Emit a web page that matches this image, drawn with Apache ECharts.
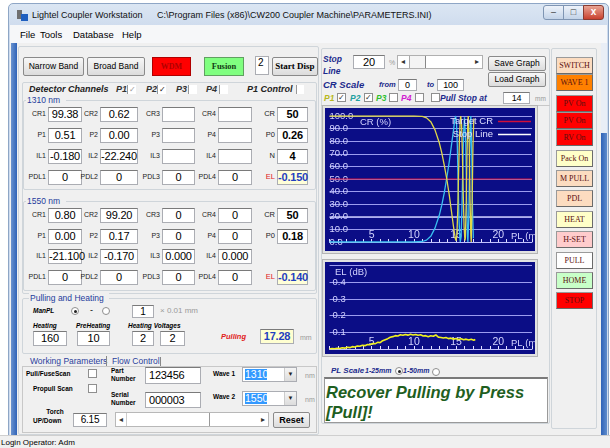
<!DOCTYPE html>
<html><head><meta charset="utf-8">
<script src="https://cdn.jsdelivr.net/npm/echarts@6/dist/echarts.min.js"></script>
<style>
html,body{margin:0;padding:0;}
body{width:610px;height:448px;position:relative;overflow:hidden;background:#fff;font-family:"Liberation Sans",Arial,sans-serif;font-size:9px;color:#000;}
.a{position:absolute;white-space:nowrap;box-sizing:border-box;}
.tb{background:#fff;border:1px solid #abadb3;border-top-color:#7a7a7a;font-size:11px;text-align:center;letter-spacing:-0.2px;}
.btn{background:linear-gradient(#f7f7f7,#dcdcdc);border:1px solid #8a8a8a;border-radius:2px;text-align:center;font-size:8.5px;}
.grp{border:1px solid #cfd5da;border-radius:2px;}
.gl{color:#1d3c9c;background:#f0f0f0;padding:0 1px;font-size:8.5px;}
.lb{font-size:7px;color:#222;text-align:right;}
.bi{font-weight:bold;font-style:italic;}
.nv{color:#1b2a8c;}
.rb{font-family:"Liberation Serif",serif;font-size:8px;color:#5a1010;text-align:center;border:1px solid #9a9a9a;border-right-color:#6a6a6a;border-bottom-color:#6a6a6a;}
</style></head>
<body>
<script>
// ---------------- DATA ----------------
const crXTicks = [5, 10, 15, 20];
const crLegend = ['Target CR', 'Stop Line'];
const targetCR = 50;
const stopLine = 20;
// P1 coupling ratio (%) vs pulling length (mm)
const p1Data = [[0,100],[5,100],[10,100],[11,99.7],[11.5,98.5],[12,95.5],[12.5,89],[13,79],[13.3,71],[13.6,61],[13.9,50],[14.2,37],[14.5,22],[14.7,12],[14.9,3],[15.0,1],[15.1,6],[15.2,25],[15.3,55],[15.4,82],[15.5,97],[15.55,100],[15.65,94],[15.75,70],[15.85,38],[15.95,12],[16.05,1],[16.1,3],[16.2,30],[16.3,72],[16.4,97],[16.45,100],[16.55,80],[16.65,35],[16.75,5],[16.8,0],[16.9,30],[17.0,75],[17.1,98]];
// P2 coupling ratio (%)
const p2Data = [[0,0],[5,0],[10,0],[11,0.4],[11.5,1.5],[12,4.5],[12.5,11],[13,21],[13.3,29],[13.6,39],[13.9,51],[14.2,64],[14.5,79],[14.7,89],[14.85,97],[14.95,100],[15.05,95],[15.15,76],[15.25,46],[15.35,18],[15.45,3],[15.5,0],[15.6,4],[15.7,28],[15.8,60],[15.9,87],[16.0,99],[16.05,100],[16.15,78],[16.25,35],[16.35,5],[16.4,0],[16.5,18],[16.6,62],[16.7,94],[16.75,100],[16.85,72],[16.95,26],[17.05,3]];
// Excess loss (dB) vs pulling length (mm)
const elData = [[0,0.000],[0.3,0.003],[0.6,0.001],[0.9,0.004],[1.2,0.003],[1.5,0.007],[1.8,0.005],[2.1,0.010],[2.4,0.008],[2.7,0.014],[3.0,0.012],[3.3,0.018],[3.6,0.016],[3.9,0.022],[4.2,0.020],[4.5,0.027],[4.8,0.025],[5.1,0.033],[5.4,0.031],[5.7,0.040],[6.0,0.038],[6.3,0.050],[6.6,0.056],[6.9,0.062],[7.2,0.070],[7.5,0.074],[7.8,0.080],[8.1,0.078],[8.4,0.085],[8.7,0.082],[9.0,0.087],[9.3,0.083],[9.6,0.088],[9.9,0.084],[10.2,0.087],[10.5,0.082],[10.8,0.085],[11.1,0.078],[11.4,0.080],[11.7,0.074],[12.0,0.079],[12.3,0.076],[12.6,0.084],[12.9,0.071],[13.2,0.069],[13.5,0.066],[13.8,0.069],[14.1,0.062],[14.4,0.065],[14.7,0.059],[15.0,0.063],[15.3,0.057],[15.6,0.061],[15.9,0.055],[16.2,0.059],[16.5,0.054],[16.8,0.058],[17.1,0.053],[17.28,0.057]];
const elYLabels = [0.1, 0.2, 0.3, 0.4];

// Panel text values
const menuItems = ['File','Tools','Database','Help'];
const rowLabels = [['CR1','CR2','CR3','CR4'],['P1','P2','P3','P4'],['IL1','IL2','IL3','IL4'],['PDL1','PDL2','PDL3','PDL4']];
const vals1310 = [['99.38','0.62','',''],['0.51','0.00','',''],['-0.180','-22.240','',''],['0','0','0','0']];
const ctl1310 = [['CR','50'],['P0','0.26'],['N','4'],['EL','-0.150']];
const vals1550 = [['0.80','99.20','0','0'],['0.00','0.17','0','0'],['-21.100','-0.170','0.000','0.000'],['0','0','0','0']];
const ctl1550 = [['CR','50'],['P0','0.18'],null,['EL','-0.140']];
const sideButtons = ['SWITCH','WAVE 1','PV On','PV On','RV On','Pack On','M PULL','PDL','HEAT','H-SET','PULL','HOME','STOP'];
const sideColors = ['#fcdcc0','#ff8000','#ff0000','#ff0000','#ff0000','#ffffc8','#fcdcc0','#fcdcc0','#ffffc8','#ffcccc','#ffffff','#c8ffc8','#ff0000'];
const sideTops = [57,74,95,112,129,150,170,190,211,231,252,272,292];

// ---------------- UI helpers ----------------
function A(x,y,w,h,cls,txt,css){
  const d=document.createElement('div');
  d.className='a'+(cls?' '+cls:'');
  let s='left:'+x+'px;top:'+y+'px;';
  if(w!=null) s+='width:'+w+'px;';
  if(h!=null){ const bordered=/tb|btn|rb/.test(cls||''); s+='height:'+h+'px;line-height:'+(bordered?h-2:h)+'px;'; }
  d.style.cssText=s+(css||'');
  if(txt!=null) d.textContent=txt;
  document.body.appendChild(d); return d;
}
function CB(x,y,chk,css){ return A(x,y,9,9,'',chk?'\u2713':'','border:1px solid #8f8f8f;background:#fff;font-size:8px;line-height:7px;text-align:center;color:#333;'+(css||'')); }
function RD(x,y,on){ const r=A(x,y,8,8,'',null,'border:1px solid #8f8f8f;border-radius:50%;background:#fff;'); if(on) A(x+2.5,y+2.5,3,3,'',null,'border-radius:50%;background:#222;'); return r; }

// ---------------- window chrome ----------------
A(8,3,601,445,'',null,'background:linear-gradient(#dbe6f3,#cfdcee 22px,#cfdcee);border:1px solid #8ea6c6;border-radius:5px 5px 0 0;');
A(17,10,5,9,'',null,'background:#707070;');
A(21,14,7,7,'',null,'background:#1f5fbf;');
A(32,8,120,14,'','Lightel Coupler Workstation','font-size:9px;color:#111;');
A(157,8,260,14,'','C:\\Program Files (x86)\\CW200 Coupler Machine\\PARAMETERS.INI)','font-size:9px;color:#111;');
A(543,5,21,15,'','\u2013','background:linear-gradient(#eef3fa,#c3d3e8);border:1px solid #7f95b3;border-radius:3px 0 0 3px;text-align:center;font-size:9px;line-height:13px;color:#333;');
A(563,5,21,15,'','\u25A1','background:linear-gradient(#eef3fa,#c3d3e8);border:1px solid #7f95b3;text-align:center;font-size:9px;line-height:13px;color:#333;');
A(583,5,21,15,'','x','background:linear-gradient(#e9a494,#c8412f);border:1px solid #8a3a30;border-radius:0 3px 3px 0;text-align:center;font-size:10px;font-weight:bold;line-height:12px;color:#fff;');
A(10,25,597,18,'',null,'background:#f6f7f9;');
const menuX=[20,40,73,122];
menuItems.forEach((m,i)=>A(menuX[i],29,40,12,'',m,'font-size:9.5px;'));
A(10,43,597,392,'',null,'background:#f0f0f0;');
A(11,43,6,392,'',null,'background:linear-gradient(90deg,#6a93cf,#2f63b8);');
A(601,43,6,90,'',null,'background:#e9eef6;');
A(601,133,6,302,'',null,'background:linear-gradient(90deg,#2f63b8,#5f8ccc);');
A(0,435,610,13,'','Login Operator: Adm','background:#f0f0f0;border-top:1px solid #cfcfcf;font-size:8px;padding-left:1px;');

// ---------------- left panel ----------------
A(18,46,301,389,'grp');
A(23,57,61,19,'btn','Narrow Band');
A(87,57,58,19,'btn','Broad Band');
A(152,57,39,19,'','WDM','background:#ff0000;border:1px solid #b00000;text-align:center;font-family:"Liberation Serif",serif;font-weight:bold;font-size:8px;color:#b00000;line-height:17px;');
A(204,57,40,19,'','Fusion','background:#80ff80;border:1px solid #60a060;text-align:center;font-family:"Liberation Serif",serif;font-weight:bold;font-size:8.5px;color:#143c14;line-height:17px;');
A(255,56,14,19,'','2','background:#fff;border:1px solid #abadb3;font-size:10px;line-height:11px;padding-left:2px;');
A(272,57,46,19,'btn','Start Disp','font-family:"Liberation Serif",serif;font-weight:bold;font-size:9px;');

A(22,82,295,212,'grp');
A(29,84,90,10,'bi','Detector Channels','font-size:9px;line-height:10px;color:#222;');
const hdr=[['P1',116,127,true],['P2',146,157,true],['P3',176,188,false],['P4',206,219,false]];
hdr.forEach(h=>{A(h[1],84,14,10,'bi',h[0],'font-size:9px;line-height:10px;color:#333;');A(h[2],85,9,9,'',h[3]?'\u2713':'','border-left:1px solid #999;background:#fff;font-size:8px;line-height:9px;text-align:center;color:'+(h[0]==='P1'?'#999':'#222')+';');});
A(247,84,50,10,'bi','P1 Control','font-size:9px;line-height:10px;color:#222;');
A(296,85,8,9,'',null,'border-left:1px solid #999;background:#fff;');

const bx=[48,100,162,218], bw=[34,38,33,34];
function fieldGroup(top,bottom,label,rowsY,vals,ctl){
  A(23,top,293,bottom-top,'grp');
  A(26,top-5,40,10,'gl',label,'line-height:10px;');
  rowsY.forEach((yc,r)=>{
    for(let c=0;c<4;c++){
      A(bx[c]-30,yc-6,28,12,'lb',rowLabels[r][c],'padding-right:0;');
      A(bx[c],yc-7,bw[c],15,'tb',vals[r][c]);
    }
    if(ctl[r]){
      const isEL=ctl[r][0]==='EL';
      A(245,yc-6,30,12,'lb',ctl[r][0],isEL?'color:#e02020;font-size:7.5px;':'font-size:7.5px;');
      A(277,yc-7,31,15,'tb',ctl[r][1],'font-weight:bold;'+(isEL?'background:#ffffd8;color:#1f3fc0;':''));
    }
  });
}
fieldGroup(100,190,'1310 nm',[114,135,156,177],vals1310,ctl1310);
fieldGroup(201,291,'1550 nm',[215,236,256,277],vals1550,ctl1550);

// pulling and heating
A(22,298,295,56,'grp');
A(29,293,80,10,'gl','Pulling and Heating','line-height:10px;');
A(33,306,30,9,'bi','ManPL','font-size:6.5px;line-height:9px;');
RD(71,307,true); A(90,305,6,10,'','-','font-size:9px;line-height:10px;'); RD(102,307,false);
A(132,305,22,13,'tb','1','font-size:10px;');
A(160,306,50,10,'','\u00D7 0.01 mm','color:#9a9a9a;font-size:8px;line-height:10px;');
A(33,321,40,9,'bi','Heating','font-size:6.5px;line-height:9px;');
A(76,321,40,9,'bi','PreHeating','font-size:6.5px;line-height:9px;');
A(128,321,60,9,'bi','Heating Voltages','font-size:6.5px;line-height:9px;');
A(33,331,34,15,'tb','160'); A(77,331,33,15,'tb','10'); A(132,331,22,15,'tb','2'); A(160,331,25,15,'tb','2');
A(221,332,40,10,'bi','Pulling','color:#e02020;font-size:7.5px;line-height:10px;');
A(260,329,34,15,'tb','17.28','background:#ffffd0;color:#1f3fc0;font-weight:bold;');
A(300,333,20,9,'','mm','color:#999;font-size:7px;line-height:9px;');

// tabs
A(22,366,295,67,'',null,'border:1px solid #c8c8c8;background:#f0f0f0;');
A(30,356,76,11,'','Working Parameters','color:#2a3f9c;font-size:8.5px;line-height:11px;');
A(106,356,1,10,'',null,'background:#888;');
A(112,356,50,11,'','Flow Control','color:#2a3f9c;font-size:8.5px;line-height:11px;');
A(160,357,1,9,'',null,'background:#888;');
A(26,369,60,10,'','Pull/FuseScan','font-weight:bold;font-size:6.5px;line-height:10px;');
CB(88,369,false);
A(33,384,60,10,'','Propull Scan','font-weight:bold;font-size:6.5px;line-height:10px;');
CB(88,384,false);
A(111,367,30,8,'','Part','font-weight:bold;font-size:6.5px;line-height:8px;');
A(111,375,30,8,'','Number','font-weight:bold;font-size:6.5px;line-height:8px;');
A(145,367,56,17,'tb','123456','text-align:left;padding-left:3px;');
A(111,391,30,8,'','Serial','font-weight:bold;font-size:6.5px;line-height:8px;');
A(111,399,30,8,'','Number','font-weight:bold;font-size:6.5px;line-height:8px;');
A(145,392,56,16,'tb','000003','text-align:left;padding-left:3px;');
function sel(y,txt){
  A(242,y,55,15,'',null,'background:#fff;border:1px solid #abadb3;');
  A(245,y+2,22,11,'',txt,'background:#3399ff;color:#fff;font-size:10.5px;line-height:11px;');
  A(284,y+1,12,13,'','\u25BC','background:linear-gradient(#f5f5f5,#dcdcdc);border-left:1px solid #ccc;font-size:6px;line-height:13px;text-align:center;color:#222;');
  A(305,y+4,14,9,'','nm','color:#999;font-size:7px;line-height:9px;');
}
A(213,369,30,9,'','Wave 1','font-weight:bold;font-size:6.5px;line-height:9px;');
sel(367,'1310');
A(213,392,30,9,'','Wave 2','font-weight:bold;font-size:6.5px;line-height:9px;');
sel(391,'1550');
A(40,408,30,8,'','Torch','font-weight:bold;font-size:6.5px;line-height:8px;text-align:center;');
A(33,416,38,9,'','UP/Down','font-weight:bold;font-size:6.5px;line-height:9px;');
A(73,413,34,14,'tb','6.15','font-size:10px;');
A(115,412,154,15,'',null,'background:#fff;border:1px solid #b8b8b8;');
A(116,413,10,13,'','\u25C2','font-size:8px;line-height:13px;text-align:center;color:#333;');
A(126,413,84,13,'',null,'border-right:1px solid #999;border-left:1px solid #ccc;');
A(258,413,10,13,'','\u25B8','font-size:8px;line-height:13px;text-align:center;color:#333;');
A(273,412,37,16,'btn','Reset','font-weight:bold;font-size:9px;');

// ---------------- right area ----------------
A(321,48,229,376,'grp');
A(323,54,30,10,'bi nv','Stop','font-size:8.5px;line-height:10px;');
A(323,66,30,10,'bi nv','Line','font-size:8.5px;line-height:10px;');
A(353,55,32,14,'tb','20');
A(389,59,8,8,'','%','color:#999;font-size:7px;line-height:8px;');
A(397,55,86,14,'',null,'background:#fff;border:1px solid #b0b0b0;');
A(398,56,10,12,'','\u25C2','font-size:8px;line-height:12px;text-align:center;color:#333;');
A(409,56,17,12,'',null,'border-left:1px solid #aaa;border-right:1px solid #888;background:#f4f4f4;');
A(472,56,10,12,'','\u25B8','font-size:8px;line-height:12px;text-align:center;color:#333;');
A(488,56,58,15,'btn','Save Graph');
A(488,72,58,15,'btn','Load Graph');
A(323,79,60,11,'bi nv','CR Scale','font-size:9.5px;line-height:11px;');
A(379,80,20,10,'bi nv','from','font-size:7.5px;line-height:10px;');
A(398,79,19,12,'tb','0','font-size:9px;');
A(427,80,10,10,'bi nv','to','font-size:7.5px;line-height:10px;');
A(437,79,27,12,'tb','100','font-size:9px;');
const pRow=[['P1','#b8b820',324,337,true],['P2','#20a0a0',350,364,true],['P3','#30c030',376,389,false],['P4','#d020d0',401,415,false]];
pRow.forEach(p=>{A(p[2],93,14,10,'bi',p[0],'color:'+p[1]+';font-size:8.5px;line-height:10px;');CB(p[3],93,p[4]);});
CB(431,93,false);
A(440,93,62,10,'bi nv','Pull Stop at','font-size:8.5px;line-height:10px;');
A(503,92,27,12,'tb','14','font-size:9px;');
A(535,95,14,8,'','mm','color:#999;font-size:6.5px;line-height:8px;');
A(321,105,229,1,'',null,'background:#c8c8c8;');

// chart frames
A(322,105,216,149,'',null,'background:#e2e2e2;border:1px solid #b5b5b5;');
A(322,259,216,98,'',null,'background:#e2e2e2;border:1px solid #b5b5b5;');
const c1div=A(325,108,210,143,'',null,'');
const c2div=A(325,262,210,92,'',null,'');

A(331,366,34,10,'bi nv','PL Scale','font-size:8px;line-height:10px;');
A(365,366,30,10,'bi nv','1-25mm','font-size:7px;line-height:10px;');
RD(395,367,true);
A(403,366,30,10,'bi nv','1-50mm','font-size:7px;line-height:10px;');
RD(432,368,false);
const msg=A(324,377,224,46,'',null,'background:#fff;border:1px solid #9a9a9a;border-top:2px solid #7a7a7a;white-space:normal;');
msg.innerHTML='<div style="font-family:\'Liberation Sans\',Arial;font-weight:bold;font-style:italic;font-size:16.5px;line-height:20px;color:#1f5f1f;padding:3px 0 0 1px;">Recover Pulling by Press<br>[Pull]!</div>';

// side button column
A(551,48,46,381,'grp');
sideButtons.forEach((t,i)=>A(556,sideTops[i],37,17,'rb',t,'background:'+sideColors[i]+';'));

// ---------------- CHARTS ----------------
const axisTxt='#d4d4ff';
const c1=echarts.init(c1div);
c1.setOption({
  animation:false,
  backgroundColor:'#0b0d86',
  grid:{left:4.5,right:1.5,top:8,bottom:9},
  legend:{data:crLegend,orient:'vertical',right:4,top:8,align:'right',icon:'rect',itemWidth:33,itemHeight:1.5,itemGap:2,padding:0,
    textStyle:{color:'#e0e0ff',fontSize:9.5,lineHeight:11,fontFamily:'Liberation Sans'}},
  graphic:[
    {type:'text',left:35,top:9,style:{text:'CR (%)',fill:axisTxt,font:'9.5px "Liberation Sans"'}},
    {type:'text',left:186,top:123,style:{text:'PL (mm)',fill:axisTxt,font:'9.5px "Liberation Sans"'}}
  ],
  xAxis:{type:'value',min:0,max:24,interval:1,
    axisLine:{show:true,onZero:false,lineStyle:{color:'#c0c0ff',width:1}},
    axisTick:{show:true,inside:true,length:3,lineStyle:{color:'#e0e0ff'}},
    axisLabel:{inside:true,margin:1,color:axisTxt,fontSize:10.5,fontFamily:'Liberation Sans',formatter:v=>crXTicks.includes(v)?String(v):''},
    splitLine:{show:false}},
  yAxis:{type:'value',min:0,max:100,interval:10,
    axisLine:{show:false},axisTick:{show:false},
    axisLabel:{inside:true,margin:0,color:axisTxt,fontSize:9.5,fontFamily:'Liberation Sans',formatter:v=>v.toFixed(1)},
    splitLine:{show:true,lineStyle:{color:'#9c9cf0',width:1}}},
  series:[
    {name:'Target CR',type:'line',data:[[0,targetCR],[24,targetCR]],symbol:'none',lineStyle:{color:'#d0103a',width:1.2},itemStyle:{color:'#d0103a'},silent:true},
    {name:'Stop Line',type:'line',data:[[0,stopLine],[24,stopLine]],symbol:'none',lineStyle:{color:'#d8d8ff',width:1},itemStyle:{color:'#ffffff'},silent:true},
    {name:'P2',type:'line',data:p2Data,symbol:'none',lineStyle:{color:'#38c0f0',width:1.3}},
    {name:'P1',type:'line',data:p1Data,symbol:'none',lineStyle:{color:'#e0d848',width:1.3}}
  ]
});

const c2=echarts.init(c2div);
c2.setOption({
  animation:false,
  backgroundColor:'#0b0d86',
  grid:{left:4.5,right:1.5,top:3.5,bottom:5},
  graphic:[
    {type:'text',left:10,top:5,style:{text:'EL (dB)',fill:axisTxt,font:'9.5px "Liberation Sans"'}},
    {type:'text',left:186,top:76,style:{text:'PL (mm)',fill:axisTxt,font:'9.5px "Liberation Sans"'}}
  ],
  xAxis:{type:'value',min:0,max:24,interval:1,
    axisLine:{show:true,onZero:false,lineStyle:{color:'#c0c0ff',width:1}},
    axisTick:{show:true,inside:true,length:3,lineStyle:{color:'#e0e0ff'}},
    axisLabel:{inside:true,margin:1,color:axisTxt,fontSize:10.5,fontFamily:'Liberation Sans',formatter:v=>crXTicks.includes(v)?String(v):''},
    splitLine:{show:false}},
  yAxis:{type:'value',min:0,max:0.5,interval:0.1,
    axisLine:{show:false},axisTick:{show:false},
    axisLabel:{inside:true,margin:3,color:axisTxt,fontSize:9.5,fontFamily:'Liberation Sans',
      formatter:v=>elYLabels.some(t=>Math.abs(t-v)<1e-6)?v.toFixed(1):''},
    splitLine:{show:true,lineStyle:{color:'#9c9cf0',width:1}}},
  series:[
    {name:'EL',type:'line',data:elData,symbol:'none',lineStyle:{color:'#f0f020',width:1.6}}
  ]
});
</script>
</body></html>
